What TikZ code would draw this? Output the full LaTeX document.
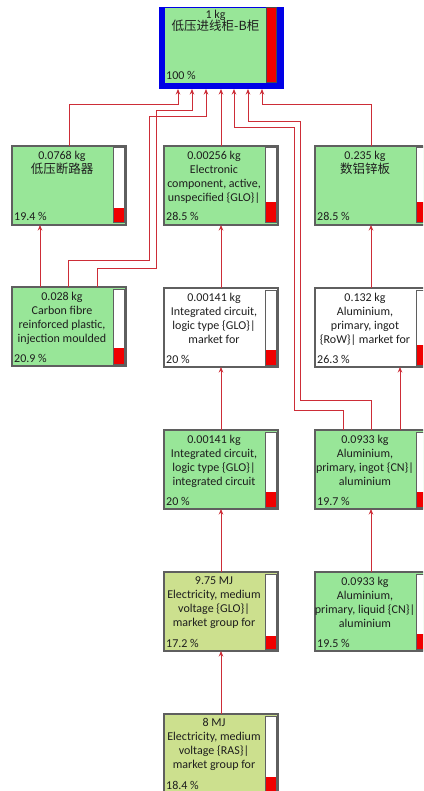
\documentclass[tikz,border=0pt]{standalone}
\usepackage{fontspec}
\setmainfont{Carlito}
\newfontfamily\cjk{Noto Sans CJK SC}
\usetikzlibrary{arrows.meta,calc}
\definecolor{boxgreen}{RGB}{152,230,152}
\definecolor{boxolive}{RGB}{204,224,142}
\definecolor{boxgray}{RGB}{95,95,95}
\definecolor{linered}{RGB}{205,45,55}
\definecolor{barred}{RGB}{240,0,0}
\definecolor{topblue}{RGB}{0,0,230}
\definecolor{txtcol}{RGB}{30,30,30}
\tikzset{
  box/.style={draw=boxgray, line width=1.3pt, anchor=north west, inner sep=0pt, outer sep=0pt,
    minimum width=114pt, minimum height=79pt},
  txt/.style={anchor=north, align=center, inner sep=0pt, text=txtcol,
    font=\fontsize{12}{14}\selectfont},
  pct/.style={anchor=base west, inner sep=0pt, text=txtcol, font=\fontsize{12}{14}\selectfont},
  conn/.style={draw=linered, line width=0.9pt, -{Stealth[length=5.5pt,width=4.5pt]}},
}
\newcommand\mybox[7]{%
  \node[box, fill=#4] (#1) at (#2,#3) {};
  \filldraw[fill=white, draw=boxgray, line width=1pt] ([xshift=-13pt,yshift=-2pt]#1.north east) rectangle ([xshift=-2pt,yshift=2pt]#1.south east);
  \fill[barred] ([xshift=-12.5pt,yshift=2.5pt]#1.south east) rectangle ([xshift=-2.5pt,yshift={(2+#5*0.75)*1pt}]#1.south east);
  \node[txt] (#1t) at ([xshift=-7pt,yshift=-4.5pt]#1.north) {#6};
  \node[pct] (#1p) at ([xshift=2pt,yshift=4pt]#1.south west) {#7};
}
\newcommand\zh[1]{{\cjk\fontsize{12.5}{14}\selectfont #1}}
\begin{document}
\begin{tikzpicture}[x=1pt,y=-1pt]
\useasboundingbox (0,0) rectangle (423,791);
\fill[white] (0,0) rectangle (423,791);
\clip (0,0) rectangle (423,791);
% top node
\node[fill=topblue, anchor=north west, inner sep=0pt, outer sep=0pt, minimum width=125pt, minimum height=82pt] (T) at (159,7) {};
\fill[boxgreen] (165,8) rectangle (266,83);
\filldraw[fill=barred, draw=black!70, line width=1pt] (266,8) rectangle (276,83);
\node[txt] (Tt) at (215.5,9.5) {1 kg\\[-1.5pt]\zh{低压进线柜-B柜}};
\node[pct] (Tp) at (166,80) {100 \%};
% boxes
\mybox{A}{12}{146}{boxgreen}{19.4}{0.0768 kg\\\zh{低压断路器}}{19.4 \%}
\mybox{B}{164}{146}{boxgreen}{28.5}{0.00256 kg\\Electronic\\component, active,\\unspecified \{GLO\}|}{28.5 \%}
\mybox{C}{315}{146}{boxgreen}{28.5}{0.235 kg\\\zh{数铝锌板}}{28.5 \%}
\mybox{D}{12}{287}{boxgreen}{20.9}{0.028 kg\\Carbon fibre\\reinforced plastic,\\injection moulded}{20.9 \%}
\mybox{E}{164}{288}{white}{20}{0.00141 kg\\Integrated circuit,\\logic type \{GLO\}|\\market for}{20 \%}
\mybox{F}{315}{288}{white}{26.3}{0.132 kg\\Aluminium,\\primary, ingot\\\{RoW\}| market for}{26.3 \%}
\mybox{G}{164}{430}{boxgreen}{20}{0.00141 kg\\Integrated circuit,\\logic type \{GLO\}|\\integrated circuit}{20 \%}
\mybox{H}{315}{430}{boxgreen}{19.7}{0.0933 kg\\Aluminium,\\primary, ingot \{CN\}|\\aluminium}{19.7 \%}
\mybox{I}{164}{572}{boxolive}{17.2}{9.75 MJ\\Electricity, medium\\voltage \{GLO\}|\\market group for}{17.2 \%}
\mybox{J}{315}{572}{boxgreen}{19.5}{0.0933 kg\\Aluminium,\\primary, liquid \{CN\}|\\aluminium}{19.5 \%}
\mybox{K}{164}{714}{boxolive}{18.4}{8 MJ\\Electricity, medium\\voltage \{RAS\}|\\market group for}{18.4 \%}
% connectors
\draw[conn] (A.north) |- (178,104) -- ([xshift=19pt]T.south west);
\draw[conn] ([xshift=85pt]D.north west) |- (156,268) |- (192,110) -- ([xshift=33pt]T.south west);
\draw[conn] ([xshift=56pt]D.north west) |- (149,260) |- (206,116) -- ([xshift=47pt]T.south west);
\draw[conn] ([xshift=57pt]B.north west) -- ([xshift=62pt]T.south west);
\draw[conn] ([xshift=28pt]H.north west) |- (294,410) |- (234,127) -- ([xshift=75pt]T.south west);
\draw[conn] ([xshift=56pt]H.north west) |- (300,400) |- (248,121) -- ([xshift=89pt]T.south west);
\draw[conn] ([xshift=56pt]C.north west) |- (262,104) -- ([xshift=103pt]T.south west);
\draw[conn] ([xshift=28pt]D.north west) -- ([xshift=28pt]A.south west);
\draw[conn] ([xshift=57pt]E.north west) -- ([xshift=57pt]B.south west);
\draw[conn] ([xshift=56pt]F.north west) -- ([xshift=56pt]C.south west);
\draw[conn] ([xshift=57pt]G.north west) -- ([xshift=57pt]E.south west);
\draw[conn] ([xshift=85pt]H.north west) -- ([xshift=85pt]F.south west);
\draw[conn] ([xshift=57pt]I.north west) -- ([xshift=57pt]G.south west);
\draw[conn] ([xshift=56pt]J.north west) -- ([xshift=56pt]H.south west);
\draw[conn] ([xshift=57pt]K.north west) -- ([xshift=57pt]I.south west);
\end{tikzpicture}
\end{document}
